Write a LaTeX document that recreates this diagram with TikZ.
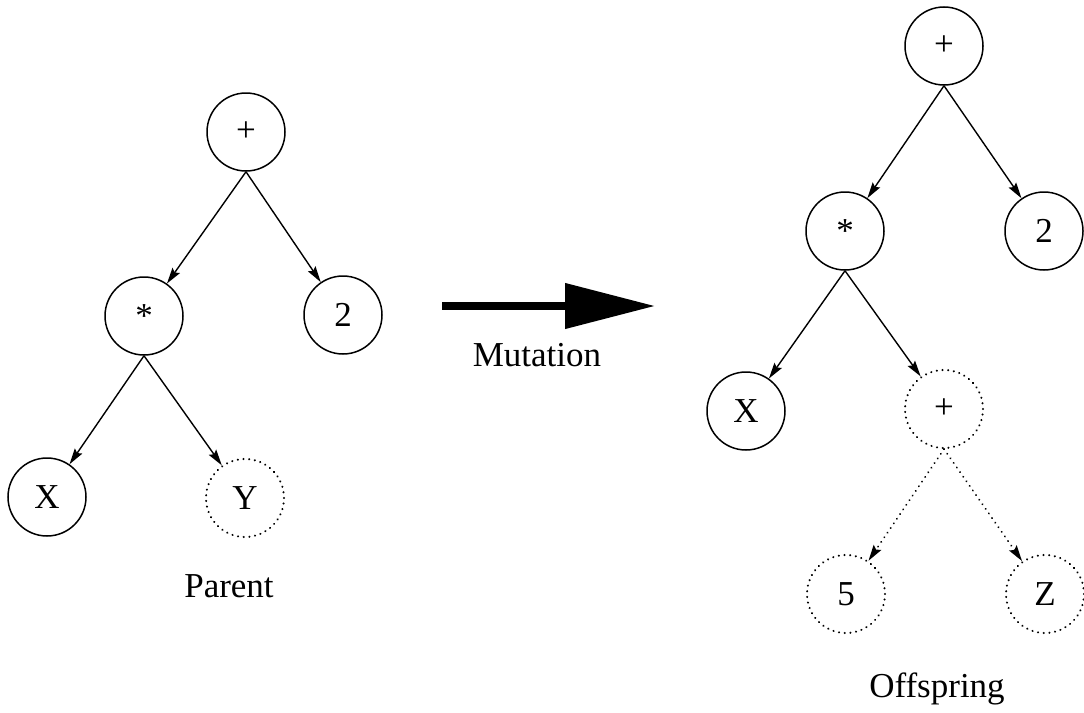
\documentclass[tikz,border=0pt]{standalone}
\usepackage{fontspec}
\setmainfont{Liberation Serif}
\usetikzlibrary{arrows.meta}
\tikzset{
  tnode/.style={circle,draw,line width=1.5pt,minimum size=78pt,inner sep=0pt,font=\fontsize{35}{42}\selectfont},
  dnode/.style={tnode,line width=2.2pt,dash pattern=on 0.1pt off 5.6pt,line cap=round},
  edge/.style={line width=1.4pt,-{Stealth[length=16pt,width=9pt,inset=2.5pt]}},
  dedge/.style={edge,dash pattern=on 0.1pt off 5.5pt,line width=2pt,line cap=round},
  lbl/.style={anchor=base,font=\fontsize{35}{42}\selectfont,inner sep=0pt},
  plus/.style={execute at begin node={\raisebox{-3pt}{+}}},
}
\begin{document}
\begin{tikzpicture}[x=1pt,y=-1pt]
\useasboundingbox (0,0) rectangle (1084,712);
% left tree
\node[tnode,plus] (lp) at (246,132) {};
\node[tnode] (lm) at (144,316) {*};
\node[tnode] (l2) at (343,315) {2};
\node[tnode] (lx) at (47,497) {X};
\node[dnode] (ly) at (245,498) {Y};
\node[lbl] (parent) at (229,597) {Parent};
\draw[edge] (lp.south) -- (lm);
\draw[edge] (lp.south) -- (l2);
\draw[edge] (lm.south) -- (lx);
\draw[edge] (lm.south) -- (ly);
% mutation arrow
\coordinate (a1) at (442,306);
\coordinate (a2) at (655,306);
\draw[line width=7.5pt,-{Triangle[length=90pt,width=44pt]}] (a1) -- (a2);
\node[lbl] (mut) at (537,366) {Mutation};
% right tree
\node[tnode,plus] (rp) at (944,46) {};
\node[tnode] (rm) at (845,231) {*};
\node[tnode] (r2) at (1044,231) {2};
\node[tnode] (rx) at (746,411) {X};
\node[dnode,plus] (rq) at (944,409) {};
\node[dnode] (r5) at (846,594) {5};
\node[dnode] (rz) at (1045,594) {Z};
\node[lbl] (off) at (937,697) {Offspring};
\draw[edge] (rp.south) -- (rm);
\draw[edge] (rp.south) -- (r2);
\draw[edge] (rm.south) -- (rx);
\draw[edge] (rm.south) -- (rq);
\draw[dedge] (rq.south) -- (r5);
\draw[dedge] (rq.south) -- (rz);
\end{tikzpicture}
\end{document}
